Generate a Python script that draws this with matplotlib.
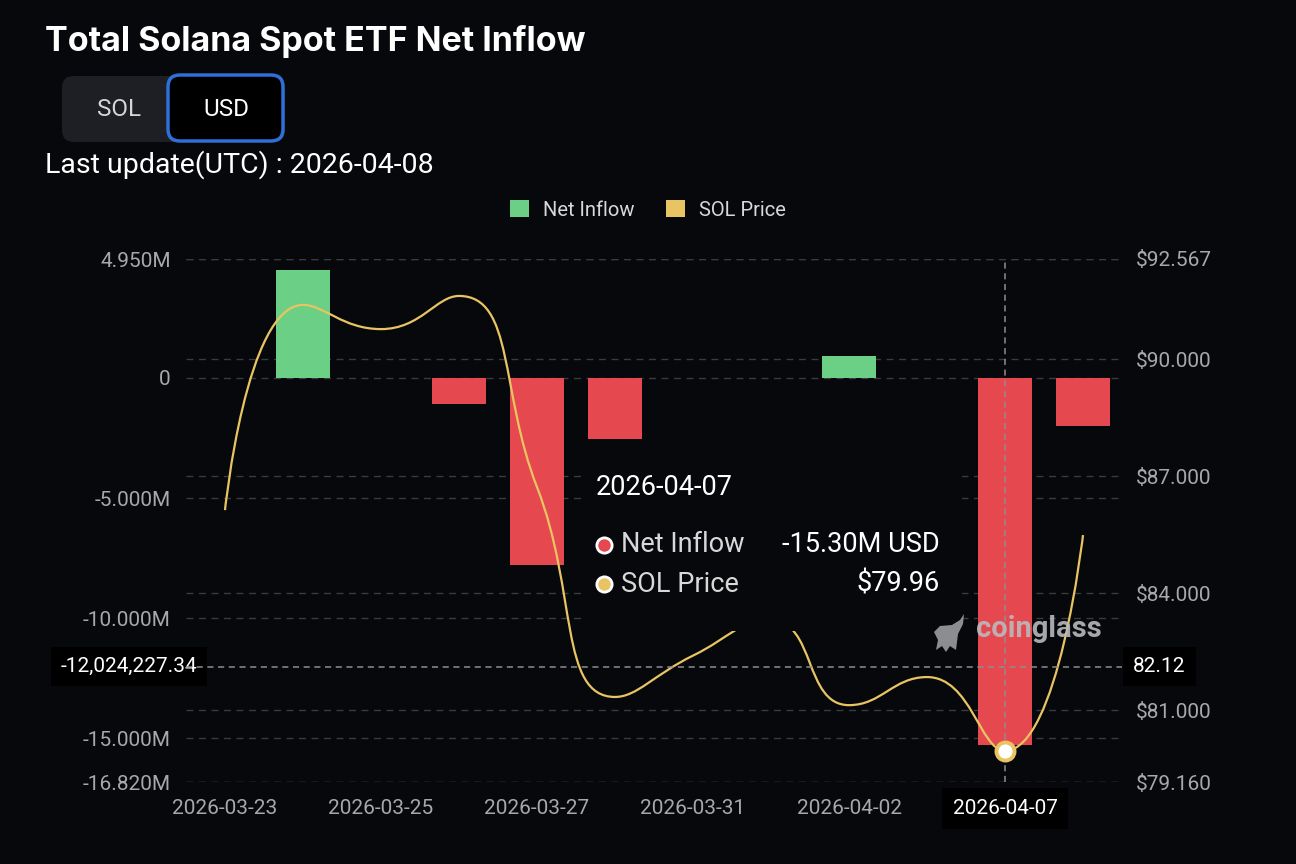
import numpy as np
import matplotlib
matplotlib.use('Agg')
import matplotlib.pyplot as plt
from matplotlib.path import Path
from matplotlib.patches import PathPatch, FancyBboxPatch, Patch, Rectangle, Polygon
from matplotlib.transforms import blended_transform_factory

# data
dates = ['2026-03-23', '2026-03-24', '2026-03-25', '2026-03-26', '2026-03-27', '2026-03-30',
         '2026-03-31', '2026-04-01', '2026-04-02', '2026-04-06', '2026-04-07', '2026-04-08']
net_inflow = [0.0, 4.50e6, 0.0, -1.10e6, -7.80e6, -2.55e6,
              0.0, 0.0, 0.92e6, 0.0, -15.30e6, -2.00e6]
sol_price = [86.13, 91.39, 90.77, 91.62, 86.72, 81.34,
             82.40, 83.30, 81.13, 81.85, 79.96, 85.49]

left_ticks = [4.95e6, 0, -5e6, -10e6, -15e6, -16.82e6]
left_labels = ['4.950M', '0', '-5.000M', '-10.000M', '-15.000M', '-16.820M']
right_ticks = [92.567, 90, 87, 84, 81, 79.16]
right_labels = ['$92.567', '$90.000', '$87.000', '$84.000', '$81.000', '$79.160']

sel = 10  # hovered category
cross_left = -12024227.34
cross_right = 82.12

BG = '#07080b'
GREEN = '#6ccf86'
RED = '#e6484f'
GOLD = '#e9c462'
GRID = '#3a3b40'
TICK = '#a7a8ab'

plt.rcParams['font.family'] = ['Roboto', 'DejaVu Sans']

W, H = 1296, 864
fig = plt.figure(figsize=(W / 100, H / 100), dpi=100, facecolor=BG)


def fx(px):
    return px / W


def fy(py):
    return 1 - py / H


ax = fig.add_axes([fx(186), fy(782), fx(1122) - fx(186), fy(259) - fy(782)])
ax.set_facecolor(BG)
ax2 = ax.twinx()
ax2.patch.set_visible(False)

x = np.arange(len(dates))
ax.set_xlim(-0.5, len(dates) - 0.5)
ax.set_ylim(left_ticks[-1], left_ticks[0])
ax2.set_ylim(right_ticks[-1], right_ticks[0])

for a in (ax, ax2):
    for s in a.spines.values():
        s.set_visible(False)
    a.tick_params(length=0, colors=TICK, labelsize=15)

# grid lines for both axes, behind the bars
ax.set_yticks(left_ticks)
ax.set_yticklabels(left_labels)
ax.tick_params(axis='y', pad=11)
for t in left_ticks:
    ax.axhline(t, color=GRID, lw=1, ls=(0, (5, 4)), zorder=0.5)
rtrans = blended_transform_factory(ax.transAxes, ax2.transData)
for t in right_ticks:
    ax.plot([0, 1], [t, t], transform=rtrans, color=GRID, lw=1, ls=(0, (5, 4)), zorder=0.5)
ax2.set_yticks(right_ticks)
ax2.set_yticklabels(right_labels)
ax2.tick_params(axis='y', pad=10)

colors = [GREEN if v >= 0 else RED for v in net_inflow]
ax.bar(x, net_inflow, width=0.69, color=colors, zorder=2)

ax.set_xticks(x[::2])
ax.set_xticklabels(dates[::2])
ax.tick_params(axis='x', pad=12)
for lbl, d in zip(ax.get_xticklabels(), dates[::2]):
    if d == dates[sel]:
        lbl.set_color('white')
        lbl.set_bbox(dict(facecolor='black', edgecolor='none', pad=8))
ax2.set_xlim(ax.get_xlim())

# smooth price line, echarts style: bezier with control points clamped to neighbours
fig.canvas.draw()
trans = ax2.transData
pts = trans.transform(np.column_stack([x, sol_price]))
smooth = 0.5
verts = [pts[0]]
codes = [Path.MOVETO]
cp0 = pts[0].copy()
for k in range(1, len(pts)):
    px_, py_ = pts[k]
    qx, qy = pts[k - 1]
    if k == len(pts) - 1:
        ncp = pts[k].copy()
        nxt_cp = pts[k].copy()
    else:
        nx, ny = pts[k + 1]
        vx, vy = nx - qx, ny - qy
        lp = np.hypot(px_ - qx, py_ - qy)
        ln = np.hypot(nx - px_, ny - py_)
        r = ln / (ln + lp)
        tk = px_ + vx * smooth * r
        tl = py_ + vy * smooth * r
        tk = min(max(tk, min(nx, px_)), max(nx, px_))
        tl = min(max(tl, min(ny, py_)), max(ny, py_))
        vx, vy = tk - px_, tl - py_
        c0x = px_ - vx * lp / ln
        c0y = py_ - vy * lp / ln
        c0x = min(max(c0x, min(qx, px_)), max(qx, px_))
        c0y = min(max(c0y, min(qy, py_)), max(qy, py_))
        vx, vy = px_ - c0x, py_ - c0y
        ncp = np.array([c0x, c0y])
        nxt_cp = np.array([px_ + vx * ln / lp, py_ + vy * ln / lp])
    verts += [cp0, ncp, pts[k]]
    codes += [Path.CURVE4] * 3
    cp0 = nxt_cp
verts = trans.inverted().transform(np.array(verts))
ax2.add_patch(PathPatch(Path(verts, codes), facecolor='none', edgecolor=GOLD, lw=1.6, zorder=3))

# crosshair
ax2.axvline(x[sel], color='#8d8e92', lw=1.1, ls=(0, (4, 3)), zorder=4)
ax2.axhline(cross_right, color='#8d8e92', lw=1.1, ls=(0, (4, 3)), zorder=4)
ax2.plot(x[sel], sol_price[sel], 'o', ms=13, mfc='white', mec=GOLD, mew=2.8, zorder=8)
ax.text(0.012, cross_left, f'{cross_left:,.2f}', transform=blended_transform_factory(ax.transAxes, ax.transData),
        ha='right', va='center', color='white', fontsize=15,
        bbox=dict(facecolor='black', edgecolor='none', pad=7), zorder=10)
ax2.text(1.012, cross_right, f'{cross_right:.2f}', transform=rtrans,
         ha='left', va='center', color='white', fontsize=15,
         bbox=dict(facecolor='black', edgecolor='none', pad=7), zorder=10)

# tooltip box (covers the line beneath it)
fig.patches.append(Rectangle((fx(582), fy(631)), fx(962) - fx(582), fy(455) - fy(631),
                             transform=fig.transFigure, facecolor=BG, edgecolor='none', zorder=5))
tip_fs = 19.5
fig.text(fx(596), fy(488), dates[sel], color='white', fontsize=tip_fs, va='center', zorder=6)
fig.text(fx(621), fy(545), 'Net Inflow', color='#d8d8d8', fontsize=tip_fs, va='center', zorder=6)
fig.text(fx(621), fy(584), 'SOL Price', color='#d8d8d8', fontsize=tip_fs, va='center', zorder=6)
fig.text(fx(940), fy(545), f'{net_inflow[sel] / 1e6:.2f}M USD', color='white', fontsize=tip_fs,
         ha='right', va='center', zorder=6)
fig.text(fx(940), fy(584), f'${sol_price[sel]:.2f}', color='white', fontsize=tip_fs,
         ha='right', va='center', zorder=6)
dot_ax = fig.add_axes([0, 0, 1, 1], zorder=7)
dot_ax.set_xlim(0, W)
dot_ax.set_ylim(H, 0)
dot_ax.axis('off')
dot_ax.plot([604], [545], 'o', ms=11, mfc=RED, mec='white', mew=2)
dot_ax.plot([604], [584], 'o', ms=11, mfc=GOLD, mec='white', mew=2)

# watermark
fig.text(fx(976), fy(629), 'coinglass', color='#b9babd', fontsize=21, fontweight='bold',
         va='center', alpha=0.9, zorder=6)
dot_ax.add_patch(Polygon([(934, 632), (940, 626), (952, 625), (960, 620), (964, 614), (963, 624),
                          (958, 634), (956, 650), (950, 646), (946, 652), (942, 646), (936, 650),
                          (938, 640)], closed=True, facecolor='#9c9da0', edgecolor='none', alpha=0.9))

# header
fig.text(fx(45), fy(42), 'Total Solana Spot ETF Net Inflow', color='white', fontsize=24.5,
         fontweight='bold', family=['Inter', 'DejaVu Sans'], va='center')
dot_ax.add_patch(FancyBboxPatch((62, 76), 223, 66, boxstyle='round,pad=0,rounding_size=12',
                                facecolor='#1d1f25', edgecolor='none'))
dot_ax.add_patch(FancyBboxPatch((168, 75), 115, 66, boxstyle='round,pad=0,rounding_size=12',
                                facecolor='black', edgecolor='#2f6fd8', lw=2.5))
dot_ax.text(119, 109, 'SOL', color='#d5d6d8', fontsize=17.5, ha='center', va='center')
dot_ax.text(226, 109, 'USD', color='white', fontsize=17.5, ha='center', va='center')
fig.text(fx(45), fy(165), 'Last update(UTC) : 2026-04-08', color='white', fontsize=20.5, va='center')

fig.legend(handles=[Patch(facecolor=GREEN, label='Net Inflow'), Patch(facecolor=GOLD, label='SOL Price')],
           loc='center', bbox_to_anchor=(fx(648), fy(210)), ncol=2, frameon=False,
           fontsize=14.5, labelcolor='#d8d8d8', handlelength=0.9, handleheight=0.9,
           handletextpad=0.7, columnspacing=1.6)

fig.savefig('out.png', dpi=100, facecolor=BG)
